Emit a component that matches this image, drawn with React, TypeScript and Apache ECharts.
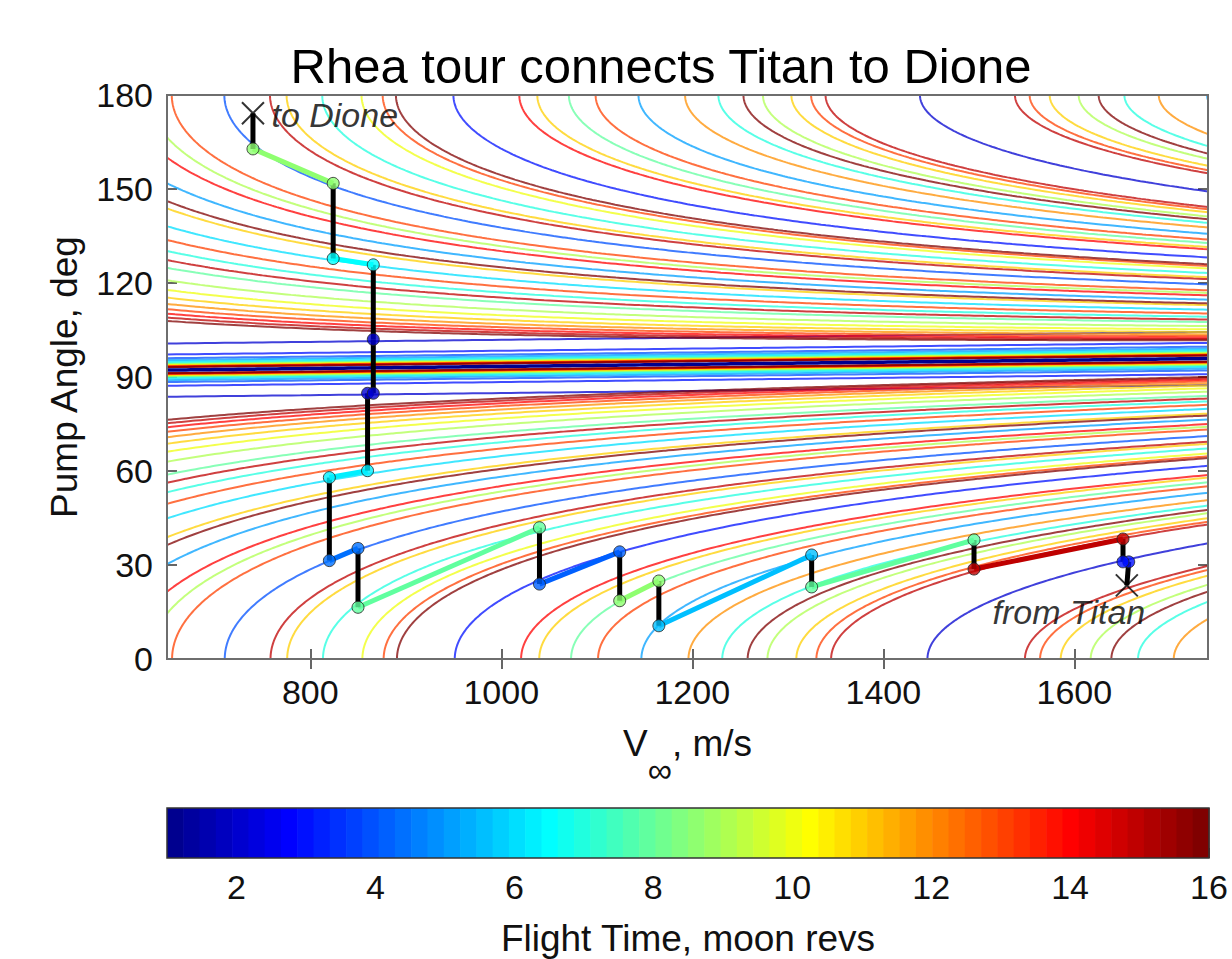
import React, { useEffect, useRef } from "react";
import * as echarts from "echarts";

const FONT = "'Liberation Sans', Arial, sans-serif";
const TITLE = "Rhea tour connects Titan to Dione";
const Y_NAME = "Pump Angle, deg";
const CB_NAME = "Flight Time, moon revs";

// Rhea circular orbital speed, m/s
const RHEA_SPEED = 8483;
const V_MIN = 650;
const V_MAX = 1740;

// Resonances N:M drawn as contours: N = flight time (moon revs), M = spacecraft revs
const flightTimes = [1, 2, 3, 4, 5, 6, 7, 8, 9, 10, 11, 12, 13, 14, 15, 16];
const spacecraftRevs: number[][] = [
  [1],
  [1, 3],
  [2, 4, 5],
  [3, 5],
  [2, 3, 4, 6, 7, 8],
  [5, 7],
  [3, 4, 5, 6, 8, 9, 10, 11],
  [5, 7, 9, 11, 13],
  [4, 5, 7, 8, 10, 11, 13, 14],
  [7, 9, 11, 13],
  [5, 6, 7, 8, 9, 10, 12, 13, 14, 15, 16, 17, 18],
  [5, 7, 11, 13, 17, 19],
  [6, 7, 8, 9, 10, 11, 12, 14, 15, 16, 17, 18, 19, 20, 21],
  [9, 11, 13, 15, 17, 19, 23],
  [7, 8, 11, 13, 14, 16, 17, 19, 22, 23],
  [7, 9, 11, 13, 15, 17, 19, 21, 23, 25],
];

// Lines bundled around the 1:1 contour (offset in deg)
const bundleFlight = [2, 3, 4, 5, 6, 7, 8, 9, 10, 11, 12, 13, 14, 15, 16];
const bundleOffset = [8.5, 5.0, 3.8, 3.2, 2.7, 2.3, 2.0, 1.8, 1.6, 1.45, 1.3, 1.2, 1.1, 1.0, 0.95];

// Tour, from Titan (first) to Dione (last)
const tourVinf = [1655, 1657, 1651, 1651, 1495, 1495, 1325, 1325, 1165, 1165, 1124, 1124, 1040, 1040, 850, 850, 820, 820, 860, 860, 866, 866, 866, 824, 824, 740, 740];
const tourPump = [23.5, 31.0, 31.0, 38.3, 28.7, 38.0, 23.0, 33.2, 10.6, 24.9, 18.6, 34.2, 23.9, 41.9, 16.5, 35.3, 31.4, 57.9, 60.1, 84.8, 84.8, 102.0, 125.8, 127.8, 151.8, 162.8, 174.2];
// flight time of each leg (0 = flyby, drawn black)
const tourLegFlight = [0, 3, 0, 15, 0, 7.8, 0, 5.5, 0, 8.5, 0, 4.2, 0, 8, 0, 4.3, 0, 6.3, 0, 2, 0, 0, 6.5, 0, 8.5, 0];
const tourNodeFlight = [0, 3, 3, 15, 15, 7.8, 7.8, 5.5, 5.5, 8.5, 8.5, 4.2, 4.2, 8, 8, 4.3, 4.3, 6.3, 6.3, 2, 2, 2, 6.5, 6.5, 8.5, 8.5, 0];

const xTicks = [800, 1000, 1200, 1400, 1600];
const cbTicks = [2, 4, 6, 8, 10, 12, 14, 16];
const cbLevels = Array.from({ length: 64 }, (_, k) => k);

function jetRGB(value: number): [number, number, number] {
  const j = Math.min(64, Math.max(1, Math.floor(((value - 1) / 15) * 64) + 1));
  return jetIndexRGB(j);
}
function jetIndexRGB(j: number): [number, number, number] {
  const u = (k: number) => {
    if (k < 1 || k > 47) return 0;
    if (k <= 16) return k / 16;
    if (k <= 31) return 1;
    return (48 - k) / 16;
  };
  return [Math.round(u(j - 24) * 255), Math.round(u(j - 8) * 255), Math.round(u(j + 8) * 255)];
}
const rgba = (c: [number, number, number], a = 1) => `rgba(${c[0]},${c[1]},${c[2]},${a})`;

function resonanceCurve(p: number): number[][] {
  const vm = RHEA_SPEED;
  const C = vm * vm * (1 - Math.pow(p, -2 / 3));
  const pts: number[][] = [];
  for (let v = V_MIN; v <= V_MAX + 0.001; v += 5) {
    const c = (C - v * v) / (2 * vm * v);
    if (c >= -1 && c <= 1) pts.push([v, (Math.acos(c) * 180) / Math.PI]);
  }
  for (let a = 0; a <= 180.001; a += 0.5) {
    const b = vm * Math.cos((a * Math.PI) / 180);
    const d = b * b + C;
    if (d < 0) continue;
    const s = Math.sqrt(d);
    let v: number;
    if (C >= 0) v = -b + s;
    else {
      if (b >= 0) continue;
      v = -b - s;
    }
    if (v >= V_MIN && v <= V_MAX) pts.push([v, a]);
  }
  pts.sort((q, r) => q[0] - r[0]);
  return pts;
}

function unityAngle(v: number) {
  return (Math.acos(-v / (2 * RHEA_SPEED)) * 180) / Math.PI;
}

export default function App() {
  const ref = useRef<HTMLDivElement>(null);
  useEffect(() => {
    if (!ref.current) return;
    const chart = echarts.init(ref.current, undefined, { renderer: "svg" });
    const series: any[] = [];

    // bundle around 1:1
    bundleFlight.forEach((n, i) => {
      [1, -1].forEach((sgn) => {
        const pts: number[][] = [];
        for (let v = V_MIN; v <= V_MAX + 0.001; v += 10) pts.push([v, unityAngle(v) + sgn * bundleOffset[i]]);
        series.push({
          type: "line", xAxisIndex: 0, yAxisIndex: 0, data: pts, showSymbol: false, symbol: "none",
          silent: true, z: 2, lineStyle: { color: rgba(jetRGB(n), 0.75), width: 2 },
        });
      });
    });

    flightTimes.forEach((n, i) => {
      spacecraftRevs[i].forEach((m) => {
        const p = n / m;
        const one = n === 1 && m === 1;
        series.push({
          type: "line", xAxisIndex: 0, yAxisIndex: 0, data: resonanceCurve(p), showSymbol: false, symbol: "none",
          silent: true, z: one ? 3 : 2,
          lineStyle: { color: rgba(jetRGB(n), one ? 1 : 0.75), width: one ? 3.5 : 2, cap: "butt" },
        });
      });
    });

    // tour legs
    tourLegFlight.forEach((f, i) => {
      series.push({
        type: "line", xAxisIndex: 0, yAxisIndex: 0, showSymbol: false, symbol: "none", silent: true, z: 5,
        data: [[tourVinf[i], tourPump[i]], [tourVinf[i + 1], tourPump[i + 1]]],
        lineStyle: { color: f === 0 ? "#000" : rgba(jetRGB(f)), width: 5, cap: "butt" },
      });
    });

    // tour nodes
    series.push({
      type: "scatter", xAxisIndex: 0, yAxisIndex: 0, z: 6, symbol: "circle", symbolSize: 12, silent: true,
      data: tourVinf
        .map((v, i) => ({ v, i }))
        .filter((d) => tourNodeFlight[d.i] > 0)
        .map((d) => ({
          value: [d.v, tourPump[d.i]],
          itemStyle: { color: rgba(jetRGB(tourNodeFlight[d.i])), borderColor: "#222", borderWidth: 1 },
        })),
    });

    // start / end markers
    const last = tourVinf.length - 1;
    series.push({
      type: "scatter", xAxisIndex: 0, yAxisIndex: 0, z: 7, silent: true,
      symbol: "path://M0,0L10,10M10,0L0,10", symbolSize: 22,
      itemStyle: { color: "none", borderColor: "#000", borderWidth: 2 },
      data: [
        {
          value: [tourVinf[0], tourPump[0]],
          label: {
            show: true, formatter: "from Titan", position: "inside", offset: [-58, 27],
            fontSize: 34, fontStyle: "italic", fontFamily: FONT, color: "#000",
          },
        },
        {
          value: [tourVinf[last], tourPump[last]],
          label: {
            show: true, formatter: "to Dione", position: "right", distance: 5, offset: [0, 2],
            fontSize: 34, fontStyle: "italic", fontFamily: FONT, color: "#000",
          },
        },
      ],
    });

    // colorbar
    series.push({
      type: "custom", xAxisIndex: 2, yAxisIndex: 2, silent: true, z: 2,
      data: cbLevels.map((k) => [1 + ((k + 0.5) * 15) / 64, 0.5, k]),
      renderItem: (params: any, api: any) => {
        const k = api.value(2);
        const p0 = api.coord([1 + (k * 15) / 64, 0]);
        const p1 = api.coord([1 + ((k + 1) * 15) / 64, 1]);
        return {
          type: "rect",
          shape: { x: p0[0], y: p1[1], width: p1[0] - p0[0] + 0.6, height: p0[1] - p1[1] },
          style: { fill: rgba(jetIndexRGB(k + 1)) },
        };
      },
    });

    const tickStyle = { color: "#333", width: 1.5 };
    const labelStyle = { fontSize: 34, fontFamily: FONT, color: "#111" };
    const plain = (v: number) => String(v);

    chart.setOption({
      animation: false,
      backgroundColor: "#fff",
      graphic: [
        {
          type: "text", x: 661, y: 66,
          style: { text: TITLE, fontSize: 49, fontFamily: FONT, fill: "#000", textAlign: "center", textVerticalAlign: "middle" },
        },
      ],
      grid: [
        { left: 167, top: 95, width: 1041, height: 564, show: true, borderColor: "#6e6e6e", borderWidth: 2, backgroundColor: "transparent", z: 8 },
        { left: 167, top: 808, width: 1042, height: 50, show: true, borderColor: "#333", borderWidth: 1.5, backgroundColor: "transparent", z: 8 },
      ],
      xAxis: [
        {
          gridIndex: 0, type: "value", min: V_MIN, max: V_MAX, position: "bottom",
          axisLine: { show: false }, splitLine: { show: false },
          axisTick: { inside: true, length: 10, customValues: xTicks, lineStyle: tickStyle },
          axisLabel: { ...labelStyle, customValues: xTicks, margin: 16, formatter: plain },
          name: "{a|V}{b|∞}{a|, m/s}", nameLocation: "middle", nameGap: 66,
          nameTextStyle: {
            fontSize: 37, fontFamily: FONT, color: "#111",
            rich: {
              a: { fontSize: 37, fontFamily: FONT, color: "#111", lineHeight: 40, verticalAlign: "top" },
              b: { fontSize: 34, fontFamily: FONT, color: "#111", lineHeight: 62, verticalAlign: "bottom" },
            },
          },
        },
        {
          gridIndex: 0, type: "value", min: V_MIN, max: V_MAX, position: "top",
          axisLine: { show: false }, splitLine: { show: false },
          axisTick: { inside: true, length: 10, customValues: xTicks, lineStyle: tickStyle },
          axisLabel: { show: false },
        },
        {
          gridIndex: 1, type: "value", min: 1, max: 16, position: "bottom",
          axisLine: { show: false }, splitLine: { show: false },
          axisTick: { inside: true, length: 10, customValues: cbTicks, lineStyle: tickStyle },
          axisLabel: { ...labelStyle, customValues: cbTicks, margin: 12, formatter: plain },
          name: CB_NAME, nameLocation: "middle", nameGap: 62,
          nameTextStyle: { fontSize: 37, fontFamily: FONT, color: "#111" },
        },
      ],
      yAxis: [
        {
          gridIndex: 0, type: "value", min: 0, max: 180, interval: 30, position: "left",
          axisLine: { show: false }, splitLine: { show: false },
          axisTick: { inside: true, length: 10, lineStyle: tickStyle },
          axisLabel: { ...labelStyle, margin: 14, formatter: plain },
          name: Y_NAME, nameLocation: "middle", nameGap: 84,
          nameTextStyle: { fontSize: 37, fontFamily: FONT, color: "#111" },
        },
        {
          gridIndex: 0, type: "value", min: 0, max: 180, interval: 30, position: "right",
          axisLine: { show: false }, splitLine: { show: false },
          axisTick: { inside: true, length: 10, lineStyle: tickStyle },
          axisLabel: { show: false },
        },
        { gridIndex: 1, type: "value", min: 0, max: 1, show: false },
      ],
      series,
    });
    return () => chart.dispose();
  }, []);
  return (
    <div
      ref={ref}
      style={{ position: "fixed", left: 0, top: 0, width: 1232, height: 959, background: "#fff" }}
    />
  );
}
